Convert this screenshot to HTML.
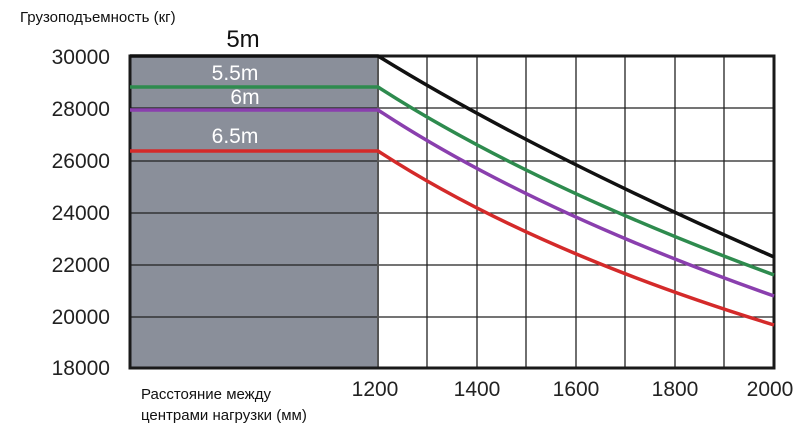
<!DOCTYPE html>
<html><head><meta charset="utf-8"><style>body{margin:0;background:#fff}</style></head><body>
<svg width="803" height="433" xmlns="http://www.w3.org/2000/svg" font-family="Liberation Sans, DejaVu Sans, sans-serif">
<rect x="130" y="56" width="248" height="312" fill="#8a8f9a"/>
<g stroke="#222" stroke-width="1.3">
<line x1="427" y1="56" x2="427" y2="368"/><line x1="477" y1="56" x2="477" y2="368"/>
<line x1="526" y1="56" x2="526" y2="368"/><line x1="576" y1="56" x2="576" y2="368"/>
<line x1="625" y1="56" x2="625" y2="368"/><line x1="675" y1="56" x2="675" y2="368"/>
<line x1="724" y1="56" x2="724" y2="368"/>
<line x1="130" y1="108" x2="774" y2="108"/><line x1="130" y1="161" x2="774" y2="161"/>
<line x1="130" y1="213" x2="774" y2="213"/><line x1="130" y1="265" x2="774" y2="265"/>
<line x1="130" y1="317" x2="774" y2="317"/>
</g>
<line x1="378" y1="56" x2="378" y2="368" stroke="#555" stroke-width="2"/>
<rect x="130" y="56" width="644" height="312" fill="none" stroke="#1a1a1a" stroke-width="3"/>
<g fill="none" stroke-width="3.5">
<path d="M130 56 H378 Q530 150 774 257" stroke="#111"/>
<path d="M130 87 H378 Q530 185 774 275" stroke="#2e8b4e"/>
<path d="M130 110 H378 Q530 210 774 296" stroke="#8a3fae"/>
<path d="M130 151 H378 Q530 250 774 325" stroke="#d42a2a"/>
</g>
<g font-size="21" fill="#fff" text-anchor="middle">
<text x="235" y="80">5.5m</text><text x="245" y="104">6m</text><text x="235" y="143">6.5m</text>
</g>
<text x="243" y="47" font-size="24" text-anchor="middle" fill="#111">5m</text>
<text x="20" y="22" font-size="15" fill="#111">Грузоподъемность (кг)</text>
<g font-size="21" fill="#222" text-anchor="end">
<text x="110" y="64">30000</text><text x="110" y="116">28000</text><text x="110" y="168">26000</text>
<text x="110" y="220">24000</text><text x="110" y="272">22000</text><text x="110" y="324">20000</text>
<text x="110" y="375">18000</text>
</g>
<g font-size="21" fill="#222" text-anchor="middle">
<text x="375" y="396">1200</text><text x="477" y="396">1400</text><text x="576" y="396">1600</text>
<text x="675" y="396">1800</text><text x="770" y="396">2000</text>
</g>
<text x="141" y="399" font-size="15" fill="#111">Расстояние между</text>
<text x="141" y="420" font-size="15" fill="#111">центрами нагрузки (мм)</text>
</svg>
</body></html>
